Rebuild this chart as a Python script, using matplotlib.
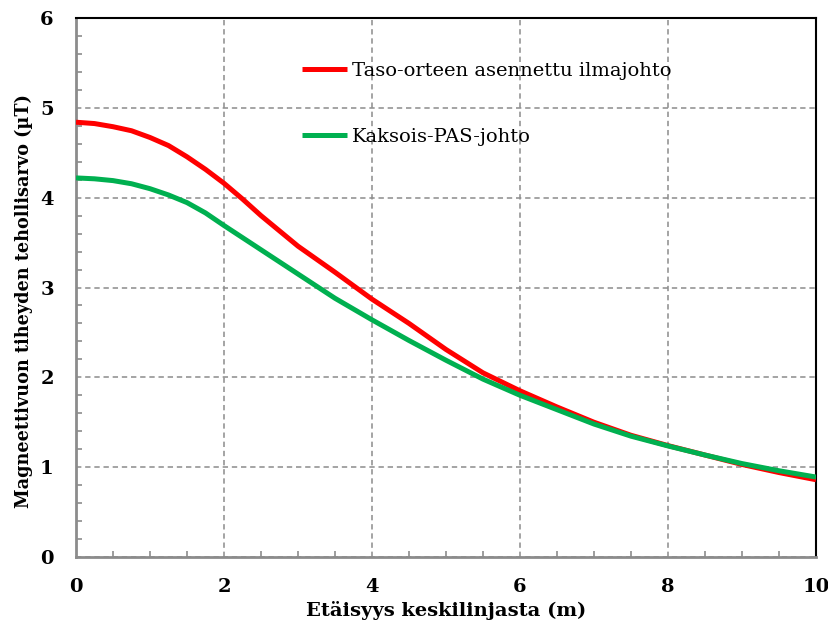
import matplotlib
matplotlib.use('Agg')
import matplotlib.pyplot as plt
from matplotlib.ticker import MultipleLocator

# distance from centre line (m) and flux density (uT)
etaisyys = [0, 0.25, 0.5, 0.75, 1, 1.25, 1.5, 1.75, 2, 2.25, 2.5, 2.75, 3,
            3.5, 4, 4.5, 5, 5.5, 6, 6.5, 7, 7.5, 8, 8.5, 9, 9.5, 10]
ilmajohto = [4.84, 4.825, 4.79, 4.745, 4.67, 4.58, 4.455, 4.315, 4.16, 3.985, 3.80, 3.63, 3.46,
             3.17, 2.87, 2.60, 2.31, 2.05, 1.85, 1.67, 1.50, 1.355, 1.24, 1.135, 1.03, 0.94, 0.86]
pas_johto = [4.22, 4.21, 4.19, 4.155, 4.10, 4.03, 3.945, 3.83, 3.69, 3.555, 3.42, 3.285, 3.15,
             2.88, 2.64, 2.41, 2.19, 1.98, 1.80, 1.64, 1.48, 1.345, 1.236, 1.135, 1.04, 0.96, 0.89]
nimet = ['Taso-orteen asennettu ilmajohto', 'Kaksois-PAS-johto']

plt.rcParams['font.family'] = ['DejaVu Serif']

fig = plt.figure(figsize=(8.29, 6.3), dpi=100)
ax = fig.add_axes([0.0917, 0.1159, 0.8926, 0.8555])

ax.plot(etaisyys, ilmajohto, color='#ff0000', lw=3.6, label=nimet[0],
        solid_capstyle='butt', solid_joinstyle='round', zorder=3)
ax.plot(etaisyys, pas_johto, color='#00b050', lw=3.6, label=nimet[1],
        solid_capstyle='butt', solid_joinstyle='round', zorder=4)

ax.set_xlim(0, 10)
ax.set_ylim(0, 6)
ax.xaxis.set_major_locator(MultipleLocator(2))
ax.xaxis.set_minor_locator(MultipleLocator(0.5))
ax.yaxis.set_major_locator(MultipleLocator(1))
ax.yaxis.set_minor_locator(MultipleLocator(0.2))

ax.grid(True, which='major', color='#8c8c8c', ls=(0, (3.5, 2.5)), lw=1.1)
ax.set_axisbelow(True)

for s in ['left', 'bottom']:
    ax.spines[s].set_color('#8c8c8c')
    ax.spines[s].set_linewidth(2)
for s in ['top', 'right']:
    ax.spines[s].set_color('black')
    ax.spines[s].set_linewidth(1.5)

ax.tick_params(which='both', direction='in', color='#8c8c8c', width=1.2)
ax.tick_params(which='major', length=0)
ax.tick_params(axis='x', which='major', pad=15)
ax.tick_params(axis='y', which='major', pad=16)
ax.tick_params(which='minor', length=4)
for lab in ax.get_xticklabels() + ax.get_yticklabels():
    lab.set_fontsize(14)
    lab.set_fontweight('bold')

ax.set_xlabel('Etäisyys keskilinjasta (m)', fontsize=14, fontweight='bold', labelpad=4)
ax.set_ylabel('Magneettivuon tiheyden tehollisarvo (µT)', fontsize=12.7,
              fontweight='bold')
ax.yaxis.set_label_coords(-0.0585, 0.475)

ax.legend(loc='upper left', bbox_to_anchor=(0.306, 0.918), frameon=False,
          fontsize=14, handlelength=2.3, handletextpad=0.25, labelspacing=2.45,
          borderpad=0, borderaxespad=0)

fig.savefig('out.png', dpi=100)
